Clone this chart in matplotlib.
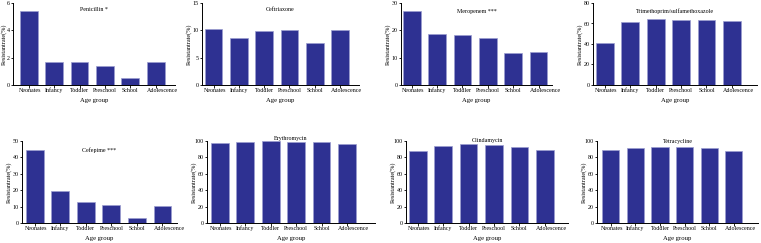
import matplotlib
matplotlib.use("Agg")
import matplotlib.pyplot as plt
from matplotlib.transforms import ScaledTranslation, blended_transform_factory

plt.rcParams['font.family'] = ['Liberation Serif', 'DejaVu Serif']

age_groups = ["Neonates", "Infancy", "Toddler", "Preschool", "School", "Adolescence"]

titles = ["Penicillin *", "Ceftriaxone", "Meropenem ***", "Trimethoprim/sulfamethoxazole",
          "Cefepime ***", "Erythromycin", "Clindamycin", "Tetracycline"]

penicillin = [5.4, 1.7, 1.7, 1.4, 0.5, 1.7]
ceftriaxone = [10.3, 8.6, 9.9, 10.1, 7.6, 10.1]
meropenem = [27.0, 18.8, 18.3, 17.1, 11.8, 11.9]
tmp_smx = [40.8, 61.8, 64.0, 63.3, 63.3, 62.8]
cefepime = [44.5, 19.3, 12.7, 10.8, 3.2, 10.1]
erythromycin = [97.5, 98.3, 99.4, 99.2, 98.5, 95.8]
clindamycin = [88.0, 94.5, 96.0, 95.3, 92.6, 89.0]
tetracycline = [89.2, 92.0, 92.8, 93.0, 91.2, 88.0]

series = [penicillin, ceftriaxone, meropenem, tmp_smx,
          cefepime, erythromycin, clindamycin, tetracycline]

y_max = [6, 15, 30, 80, 50, 100, 100, 100]
y_step = [2, 5, 10, 20, 10, 20, 20, 20]

W, H = 761, 243
# (x_left_px, x_right_px, y_top_px, y_bottom_px, xlim_left, xlim_right, title_y)
layout = [
    (13, 175, 3, 85, -0.62, 5.76, 0.95),
    (202, 359, 3, 85, -0.46, 5.75, 0.95),
    (401, 552, 3, 85, -0.42, 5.53, 0.93),
    (593, 757, 3, 85, -0.47, 5.99, 0.93),
    (22, 177, 141, 223, -0.50, 5.57, 0.92),
    (207, 375, 141, 223, -0.50, 6.10, 1.06),
    (406, 568, 141, 223, -0.46, 5.91, 1.04),
    (597, 758, 141, 223, -0.56, 5.98, 1.03),
]

label_shift = [0.06, 0.0, 0.0, 0.0, 0.0, 0.26]

fig = plt.figure(figsize=(W / 100, H / 100), dpi=100)
bar_color = '#2e3192'
edge_color = '#9b9dd0'
fs = 4.3

for i, vals in enumerate(series):
    xl, xr, yt, yb, lo, hi, ty = layout[i]
    ax = fig.add_axes([xl / W, (H - yb) / H, (xr - xl) / W, (yb - yt) / H])
    x = list(range(len(age_groups)))
    ax.bar(x, vals, width=0.70, color=bar_color, edgecolor=edge_color, linewidth=0.5)
    ax.set_xlim(lo, hi)
    ax.set_ylim(0, y_max[i])
    ax.set_yticks(list(range(0, y_max[i] + 1, y_step[i])))
    ax.set_xticks(x)
    ax.set_xticklabels([])
    trans = blended_transform_factory(ax.transData, ax.transAxes)
    for xi, lab, s in zip(x, age_groups, label_shift):
        ax.text(xi + s, 0, lab, transform=trans + ScaledTranslation(0, -7.0 / 100, fig.dpi_scale_trans),
                ha='center', va='baseline', fontsize=fs)
    for sp in ['top', 'right']:
        ax.spines[sp].set_visible(False)
    for sp in ['left', 'bottom']:
        ax.spines[sp].set_linewidth(0.7)
    ax.tick_params(axis='both', labelsize=fs, length=1.8, width=0.6, pad=1.0)
    ax.tick_params(axis='y', pad=0.5)
    ax.set_xlabel("Age group", fontsize=4.8, labelpad=6.5)
    ax.set_ylabel("Resistantrate(%)", fontsize=4.4)
    lx = max(xl - 10, 6.5)
    ax.yaxis.set_label_coords((lx - xl) / (xr - xl), 0.5)
    ax.text(0.5, ty, titles[i], transform=ax.transAxes, ha='center', va='top', fontsize=fs)

fig.savefig("out.png", dpi=100)
